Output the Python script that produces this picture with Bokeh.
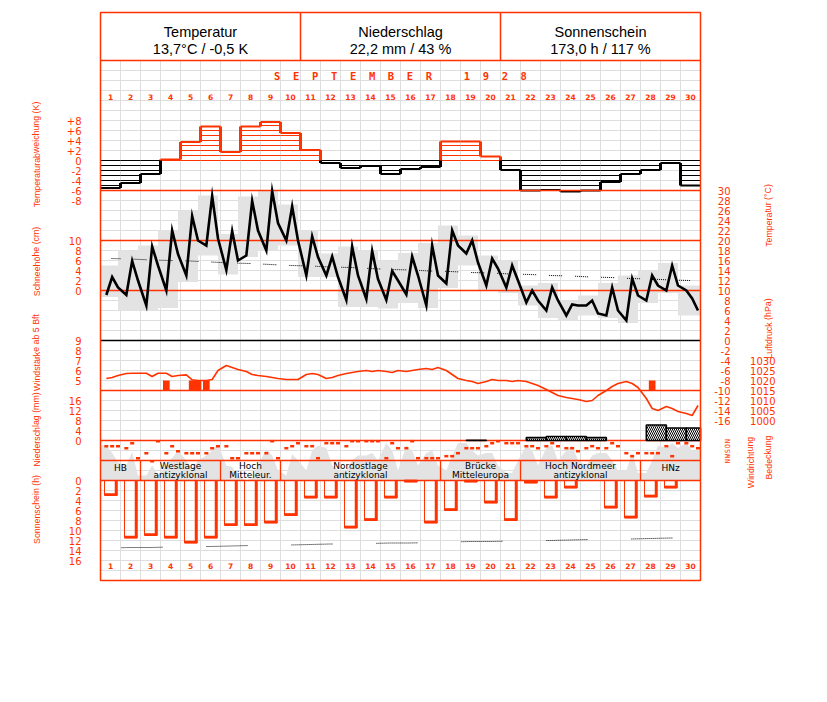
from bokeh.plotting import figure
from bokeh.models import Range1d
from bokeh.core.properties import value
from bokeh.embed import file_html
from bokeh.resources import INLINE

# ------------------------------------------------------------------ data
days = list(range(1, 31))
obs_hours = [7, 14, 21]

header_titles = ["Temperatur", "Niederschlag", "Sonnenschein"]
header_values = ["13,7°C / -0,5 K", "22,2 mm / 43 %", "173,0 h / 117 %"]
month_letters = "SEPTEMBER"
year_letters = "1928"

temp_dev = [-5.5, -4.5, -2.7, 0.2, 3.7, 6.8, 1.7, 6.8, 7.7, 5.5,
            2.1, -0.5, -1.5, -1.1, -2.7, -1.7, -1.3, 3.8, 3.8, 0.8,
            -1.9, -6.0, -5.9, -6.2, -6.0, -4.3, -2.7, -1.9, -0.5, -5.0]

t07 = [9.1, 9.1, 7.0, 10.0, 13.0, 19.0, 14.1, 17.0, 18.0, 20.0,
       13.0, 13.0, 8.1, 8.3, 8.1, 9.2, 7.0, 11.4, 17.4, 11.0,
       10.6, 7.6, 6.0, 5.0, 7.0, 5.0, 4.0, 8.0, 10.0, 10.0]
t14 = [12.7, 15.9, 18.8, 22.0, 24.9, 28.9, 21.9, 27.9, 29.9, 26.8,
       20.8, 16.8, 18.8, 17.9, 13.9, 16.8, 19.0, 22.0, 20.0, 16.4,
       15.0, 10.0, 10.6, 7.2, 8.0, 10.6, 12.4, 13.0, 15.0, 8.4]
t21 = [10.6, 12.0, 15.0, 17.3, 20.0, 20.4, 16.0, 22.0, 23.5, 20.0,
       16.7, 12.7, 13.0, 12.3, 12.0, 13.0, 13.0, 19.0, 15.6, 14.4,
       12.0, 8.0, 8.0, 7.0, 5.4, 6.0, 9.0, 11.0, 11.0, 6.0]
t_max = [15.0, 18.0, 19.0, 22.1, 26.0, 29.0, 21.3, 28.8, 30.1, 27.2,
         22.1, 17.4, 18.8, 18.0, 16.0, 17.5, 19.5, 23.0, 21.0, 17.0,
         16.0, 11.0, 11.5, 8.0, 9.0, 11.5, 13.0, 14.0, 15.5, 11.0]
t_min = [8.7, 6.0, 6.0, 6.5, 11.7, 17.0, 13.2, 16.7, 18.0, 19.0,
         12.7, 12.7, 6.7, 6.7, 6.4, 7.5, 6.5, 10.5, 15.0, 10.0,
         9.5, 7.0, 4.5, 4.0, 5.0, 4.5, 3.5, 7.5, 9.5, 5.0]
t_norm = [16.4, 16.3, 16.1, 16.0, 15.9, 15.7, 15.5, 15.4, 15.2, 15.0,
          14.9, 14.7, 14.6, 14.4, 14.2, 14.1, 13.9, 13.8, 13.6, 13.5,
          13.3, 13.2, 13.0, 12.9, 12.7, 12.6, 12.4, 12.3, 12.1, 12.0]

p07 = [1021.0, 1023.5, 1023.6, 1023.6, 1022.8, 1020.0, 1027.5, 1024.5, 1022.0, 1020.5,
       1023.0, 1021.0, 1023.5, 1025.0, 1024.5, 1024.5, 1026.0, 1025.0, 1020.0, 1019.5,
       1020.0, 1019.5, 1015.5, 1011.5, 1009.5, 1015.0, 1019.5, 1011.0, 1007.0, 1003.5]
p14 = [1021.5, 1023.6, 1022.0, 1022.0, 1020.3, 1020.5, 1026.5, 1023.0, 1021.5, 1020.5,
       1023.5, 1021.5, 1024.0, 1024.5, 1024.0, 1025.0, 1025.5, 1023.0, 1019.5, 1020.5,
       1019.5, 1018.5, 1014.0, 1011.0, 1010.0, 1017.0, 1018.5, 1006.0, 1006.0, 1002.5]
p21 = [1022.5, 1023.6, 1023.6, 1022.5, 1020.0, 1025.0, 1025.5, 1022.5, 1021.0, 1020.5,
       1023.0, 1022.5, 1024.5, 1025.0, 1025.0, 1025.5, 1026.5, 1021.0, 1018.5, 1020.0,
       1020.0, 1017.5, 1012.5, 1010.5, 1012.5, 1018.5, 1016.5, 1005.0, 1004.5, 1007.5]

strong_wind_day = [4, 5, 5, 6, 28]
strong_wind_hour = [7, 14, 21, 7, 14]
strong_wind_bft = [5, 5, 5, 5, 5]

precip = [0, 0, 0, 0, 0, 0, 0, 0, 0, 0,
          0, 0, 0, 0, 0, 0, 0, 0, 0.1, 0,
          0, 1.2, 1.6, 1.6, 1.2, 0, 0, 6.2, 5.0, 5.0]

wdir07 = [90, 126, 216, 216, 216, 216, 90, 216, 216, 126,
          90, 36, 90, 0, 306, 126, 306, 270, 126, 90,
          36, 90, 90, 126, 126, 126, 216, 216, 90, 36]
wdir14 = [90, 36, 360, 90, 216, 126, 306, 216, 0, 90,
          90, 36, 0, 0, 36, 0, 306, 270, 126, 36,
          36, 90, 36, 126, 90, 36, 270, 216, 270, 90]
wdir21 = [90, 306, 0, 180, 216, 90, 306, 216, 306, 36,
          306, 36, 0, 0, 126, 306, 306, 216, 126, 0,
          36, 126, 90, 180, 126, 90, 216, 216, 36, 126]

cloud07 = [7, 3, 1, 3, 4, 5, 3, 0, 6.3, 1, 2, 6.5, 2, 5, 7.5,
           7, 5.5, 2, 7.5, 5.5, 1.5, 7, 6.5, 6, 3, 5.5, 2, 1.5, 6.5, 7.5]
cloud14 = [5.5, 5.7, 3, 4.5, 2, 6, 2.7, 0.5, 5, 5.3, 6, 3, 4, 5.5, 6,
           6, 6, 5, 6, 5.5, 1.5, 6, 7, 7, 5, 4, 5.5, 4, 7.5, 6]
cloud21 = [3.7, 1, 1, 6, 4, 7.3, 1, 3, 2, 4, 7, 2, 5, 4, 2,
           3, 3, 7.5, 5, 3, 4, 3, 4, 4, 5.5, 2, 1.5, 7, 6.5, 6]

sunshine = [3.0, 11.5, 11.0, 11.5, 12.5, 11.5, 9.0, 9.0, 8.5, 7.0,
            3.5, 3.5, 9.5, 8.0, 3.5, 0.3, 8.5, 6.0, 0.3, 4.5,
            8.0, 0.5, 3.5, 1.5, 0.0, 5.5, 7.5, 3.3, 1.5, 0.0]
sun_possible = [13.5, 13.4, 13.4, 13.3, 13.2, 13.2, 13.1, 13.0, 13.0, 12.9,
                12.8, 12.7, 12.7, 12.6, 12.5, 12.5, 12.4, 12.3, 12.2, 12.2,
                12.1, 12.0, 12.0, 11.9, 11.8, 11.7, 11.7, 11.6, 11.5, 11.5]

wt_line1 = ["HB", "Westlage", "Hoch", "Nordostlage", "Brücke", "Hoch Nordmeer", "HNz"]
wt_line2 = ["", "antizyklonal", "Mitteleur.", "antizyklonal", "Mitteleuropa", "antizyklonal", ""]
wt_start = [1, 3, 7, 10, 18, 22, 28]
wt_end = [2, 6, 9, 17, 21, 27, 30]

dev_ticks = [8, 6, 4, 2, 0, -2, -4, -6, -8]
snow_ticks = [10, 8, 6, 4, 2, 0]
wind_ticks = [9, 8, 7, 6, 5]
prec_ticks = [16, 12, 8, 4, 0]
sun_ticks = [0, 2, 4, 6, 8, 10, 12, 14, 16]
temp_ticks = list(range(30, -17, -2))
pres_ticks = [1030, 1025, 1020, 1015, 1010, 1005, 1000]
wdir_ticks = [0, 90, 180, 270, 360]
wdir_labels = ["N", "O", "S", "W", "N"]

# ------------------------------------------------------------------ style / layout
RED = "#ff3300"
GRID = "#dedede"
GRAY = "#e3e3e3"
W, H = 820, 690
LEFT, TOP = 0, 0
NB = "\u00a0"


def px2day(sx):
    return (sx - 100) / 20 + 0.5


def lin(y0, v0, ppu):
    return lambda y: v0 + (y0 - y) / ppu


scales = {
    "dev": lin(160, 0, 5),
    "temp": lin(340, 0, 5),
    "snow": lin(290, 0, 5),
    "wind": lin(390, 4, 10),
    "pres": lin(360, 1030, 2),
    "prec": lin(440, 0, 2.5),
    "sun": lin(480, 0, -5),
    "cloud": lin(480, 0, 5),
    "wdir": lin(440.7, 0, -1 / 18),
}

p = figure(width=W, height=H, x_range=Range1d(px2day(LEFT), px2day(LEFT + W)),
           y_range=Range1d(TOP + H, TOP), output_backend="svg",
           toolbar_location=None, x_axis_type=None, y_axis_type=None,
           min_border=0)
p.outline_line_color = None
p.background_fill_color = "white"
p.extra_y_ranges = {k: Range1d(f(TOP + H), f(TOP)) for k, f in scales.items()}

X0, X1 = 0.5, 30.5
F_TOP, F_BOT = 12, 580

# grid
gx = [d + 0.5 for d in days[:-1]]
p.segment(x0=gx, y0=60, x1=gx, y1=F_BOT, line_color=GRID, line_width=1)
gy = list(range(70, 580, 10))
p.segment(x0=X0, y0=gy, x1=X1, y1=gy, line_color=GRID, line_width=1)


def obs_x(d, h):
    return d - 0.5 + h / 24.0


ox, tt, pp, cc, ww = [], [], [], [], []
for i, d in enumerate(days):
    for h, tl, pl, cl, wl in zip(obs_hours, (t07, t14, t21), (p07, p14, p21),
                                 (cloud07, cloud14, cloud21), (wdir07, wdir14, wdir21)):
        ox.append(obs_x(d, h))
        tt.append(tl[i]); pp.append(pl[i]); cc.append(cl[i]); ww.append(wl[i])

# temperature boxes (21h to 21h)
bl = [max(obs_x(d, 21) - 1, X0) for d in days]
br = [obs_x(d, 21) for d in days]
br[-1] = X1
p.quad(left=bl, right=br, top=t_max, bottom=t_min, fill_color=GRAY,
       line_color=None, y_range_name="temp")

# cloud cover area
cx = [X0] + ox + [X1]
cy = [cc[0]] + cc + [cc[-1]]
p.varea(x=cx, y1=0, y2=cy, fill_color=GRAY, y_range_name="cloud")

# temperature deviation hatch
hx0, hx1, hy, hc = [], [], [], []
for d, v in zip(days, temp_dev):
    col = RED if v >= 0 else "black"
    for k in range(0, int(abs(v)) + 1):
        hx0.append(d - 0.5); hx1.append(d + 0.5)
        hy.append(k if v >= 0 else -k); hc.append(col)
p.segment(x0=hx0, y0=hy, x1=hx1, y1=hy, line_color=hc, line_width=1,
          y_range_name="dev")
tc = [RED if v >= 0 else "black" for v in temp_dev]
p.segment(x0=[d - 0.5 for d in days], y0=temp_dev, x1=[d + 0.5 for d in days],
          y1=temp_dev, line_color=tc, line_width=2.2, y_range_name="dev")
vx, vy0, vy1, vc = [], [], [], []
for i in range(len(days) - 1):
    a, b = temp_dev[i], temp_dev[i + 1]
    if max(a, 0) != max(b, 0):
        vx.append(days[i] + 0.5); vy0.append(max(a, 0)); vy1.append(max(b, 0)); vc.append(RED)
    if min(a, 0) != min(b, 0):
        vx.append(days[i] + 0.5); vy0.append(min(a, 0)); vy1.append(min(b, 0)); vc.append("black")
p.segment(x0=vx, y0=vy0, x1=vx, y1=vy1, line_color=vc, line_width=3,
          y_range_name="dev")

# structural red/black lines
hl = [60, 190, 240, 290, 390, 440, 460, 480]
p.segment(x0=X0, y0=hl, x1=X1, y1=hl, line_color=RED, line_width=1.3)
p.segment(x0=X0, y0=340, x1=X1, y1=340, line_color="black", line_width=1.3)

# normal temperature (dotted)
p.line(x=days, y=t_norm, line_color="black", line_width=1,
       line_dash="1 1 1 1 1 1 1 1 1 1 1 1 1 13", line_dash_offset=3,
       y_range_name="temp")
# temperature curve
p.line(x=ox, y=tt, line_color="black", line_width=2.6, line_join="miter",
       y_range_name="temp")

# strong wind
wx = [obs_x(d, h) for d, h in zip(strong_wind_day, strong_wind_hour)]
p.quad(left=[x - 1 / 6 for x in wx], right=[x + 1 / 6 for x in wx], bottom=4,
       top=strong_wind_bft, fill_color=RED, line_color=None, y_range_name="wind")

# pressure
p.line(x=ox, y=pp, line_color=RED, line_width=1.6, y_range_name="pres")

# precipitation
pd_ = [d for d, v in zip(days, precip) if v > 0]
pv = [v for v in precip if v > 0]
pl_ = [obs_x(d, 7) for d in pd_]
pr_ = [min(obs_x(d, 7) + 1, X1) for d in pd_]
p.quad(left=pl_, right=pr_, bottom=0, top=pv, fill_color="white",
       hatch_pattern="\\", hatch_color="black", hatch_scale=4, hatch_weight=1,
       line_color="black", line_width=1.6, y_range_name="prec")

# wind direction
p.rect(x=ox, y=ww, width=4, height=2.5, width_units="screen", height_units="screen",
       fill_color=RED, line_color=None, y_range_name="wdir")

# weather types
wx0 = [s - 0.5 for s in wt_start]
wx1 = [e + 0.5 for e in wt_end]
p.segment(x0=wx1[:-1], y0=460, x1=wx1[:-1], y1=480, line_color=RED, line_width=1.3)
wc = [(a + b) / 2 for a, b in zip(wx0, wx1)]
y1s = [467 if not l2 else 465.5 for l2 in wt_line2]
p.text(x=wc, y=y1s, text=wt_line1, text_align="center", text_baseline="middle",
       text_font=value("DejaVu Sans"), text_font_size="9px", text_color="black")
p.text(x=wc, y=474, text=wt_line2, text_align="center", text_baseline="middle",
       text_font=value("DejaVu Sans"), text_font_size="9px", text_color="black")

# sunshine bars
sd = [d for d, v in zip(days, sunshine) if v > 0]
sv = [v for v in sunshine if v > 0]
p.quad(left=[d - 0.3 for d in sd], right=[d + 0.335 for d in sd], top=0, bottom=sv,
       fill_color=None, line_color=RED, line_width=1, y_range_name="sun")
p.segment(x0=[d + 0.275 for d in sd], y0=0, x1=[d + 0.275 for d in sd], y1=sv,
          line_color=RED, line_width=2.5, y_range_name="sun")
p.segment(x0=[d - 0.3 for d in sd], y0=[v - 0.22 for v in sv],
          x1=[d + 0.335 for d in sd], y1=[v - 0.22 for v in sv],
          line_color=RED, line_width=2.5, y_range_name="sun")
p.line(x=days, y=sun_possible, line_color="black", line_width=1,
       line_dash=" ".join(["1 1"] * 20) + " 1 44", line_dash_offset=74,
       y_range_name="sun")

# frame
p.quad(left=X0, right=X1, top=F_TOP, bottom=F_BOT, fill_color=None,
       line_color=RED, line_width=1.5)
p.segment(x0=[10.5, 20.5], y0=F_TOP, x1=[10.5, 20.5], y1=60, line_color=RED,
          line_width=1.5)

# header texts
hx = [5.5, 15.5, 25.5]
p.text(x=hx, y=31, text=header_titles, text_align="center", text_baseline="middle",
       text_font=value("Liberation Sans"), text_font_size="14.5px", text_color="black")
p.text(x=hx, y=48, text=header_values, text_align="center", text_baseline="middle",
       text_font=value("Liberation Sans"), text_font_size="14.5px", text_color="black")
month_title = (NB * 2).join(month_letters) + NB * 5 + (NB * 2).join(year_letters)
p.text(x=[15.5], y=[75], text=[month_title], text_align="center", text_baseline="middle",
       text_font=value("DejaVu Sans Mono"), text_font_style="bold",
       text_font_size="10.5px", text_color=RED)

# day numbers
dl = [str(d) for d in days]
for yy in (96, 565):
    p.text(x=days, y=yy, text=dl, text_align="center", text_baseline="middle",
           text_font=value("DejaVu Sans"), text_font_style="bold",
           text_font_size="7.5px", text_color=RED)

# tick labels
TK = dict(text_baseline="middle", text_font=value("DejaVu Sans"),
          text_font_size="10px", text_color=RED)
LX = px2day(81)
p.text(x=LX, y=dev_ticks, text=[("+%d" % v if v > 0 else "%d" % v) for v in dev_ticks],
       text_align="right", y_range_name="dev", **TK)
p.text(x=LX, y=snow_ticks, text=[str(v) for v in snow_ticks], text_align="right",
       y_range_name="snow", **TK)
p.text(x=LX, y=wind_ticks, text=[str(v) for v in wind_ticks], text_align="right",
       y_range_name="wind", **TK)
p.text(x=LX, y=prec_ticks, text=[str(v) for v in prec_ticks], text_align="right",
       y_range_name="prec", **TK)
p.text(x=LX, y=sun_ticks, text=[str(v) for v in sun_ticks], text_align="right",
       y_range_name="sun", **TK)
p.text(x=px2day(730), y=temp_ticks, text=[str(v) for v in temp_ticks],
       text_align="right", y_range_name="temp", **TK)
p.text(x=px2day(775), y=pres_ticks, text=[str(v) for v in pres_ticks],
       text_align="right", y_range_name="pres", **TK)
p.text(x=px2day(727), y=wdir_ticks, text=wdir_labels, text_align="center",
       text_baseline="middle", angle=1.5708, text_font=value("DejaVu Sans Mono"),
       text_font_size="7px", text_color=RED, y_range_name="wdir")

# axis titles (rotated)
TT = dict(text_align="center", text_baseline="middle", angle=1.5708,
          text_font=value("Liberation Sans"), text_font_size="8.8px",
          text_color=RED)
p.text(x=px2day(36), y=[154, 261, 352, 429, 509],
       text=["Temperaturabweichung (K)", "Schneehöhe (cm)", "Windstärke ab 5 Bft",
             "Niederschlag (mm)", "Sonnenschein (h)"], **TT)
p.text(x=px2day(768), y=[215, 328, 457], text=["Temperatur (°C)", "Luftdruck (hPa)",
                                              "Bedeckung"], **TT)
p.text(x=px2day(750), y=[462], text=["Windrichtung"], **TT)

open("out.html", "w").write(file_html(p, INLINE))
